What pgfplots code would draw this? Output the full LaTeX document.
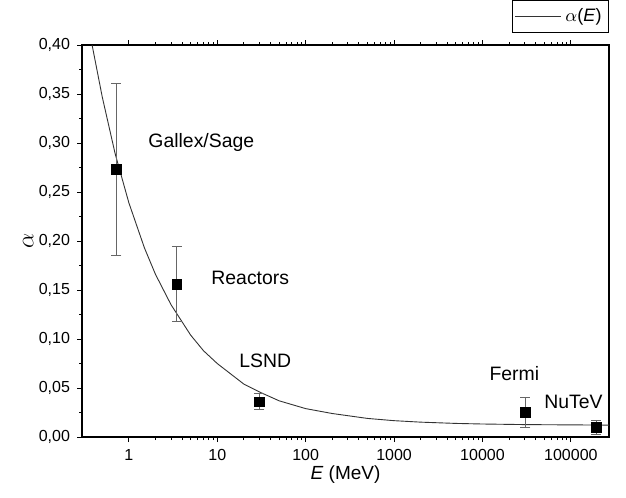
\documentclass[border=0pt]{standalone}
\usepackage{pgfplots}
\pgfplotsset{compat=1.18}
\usepackage{fontspec}
\setmainfont{Liberation Sans}

\begin{document}
\begin{tikzpicture}
\begin{axis}[
  name=main,
  scale only axis, width=263.5pt, height=196pt,
  xmode=log, xmin=0.295, xmax=2.7e5,
  ymin=0, ymax=0.40,
  xtick={1,10,100,1000,10000,100000},
  xticklabels={1,10,100,1000,10000,100000},
  ytick={0,0.05,0.1,0.15,0.2,0.25,0.3,0.35,0.4},
  minor y tick num=1,
  /pgf/number format/assume math mode=true,
  yticklabel style={/pgf/number format/.cd, fixed, fixed zerofill, precision=2, use comma},
  tick label style={font=\fontsize{8}{9}\selectfont},
  tick align=outside, xtick pos=both, ytick pos=left,
  major tick length=2.5pt, minor tick length=1.5pt,
  every tick/.style={black, line width=0.5pt},
  axis line style={line width=0.8pt},
  xlabel={\textit{E} (MeV)},
  xlabel style={font=\fontsize{9.5}{11}\selectfont, yshift=4pt},
  ylabel={$\alpha$},
  ylabel style={font=\fontsize{12}{13}\selectfont, at={(axis description cs:-0.102,0.5)}, anchor=center},
  legend style={at={(1,1)}, anchor=south east, yshift=6pt, xshift=0pt,
    draw=black, line width=0.5pt, font=\fontsize{9}{10}\selectfont,
    inner xsep=1.5pt, inner ysep=2pt, row sep=0pt},
  legend image code/.code={\draw[#1] (0cm,0cm) -- (0.8cm,0cm);},
  clip=true,
]
\addplot[black!80, line width=0.45pt] coordinates {
  (0.38,0.402)(0.5,0.347)(0.7,0.289)(1,0.239)(1.5,0.193)(2,0.166)
  (3,0.135)(5,0.104)(7,0.088)(10,0.075)(20,0.054)(30,0.046)(50,0.037)
  (100,0.029)(200,0.024)(500,0.019)(1000,0.0167)(2000,0.0152)
  (5000,0.0139)(10000,0.0133)(30000,0.0127)(100000,0.0124)(270000,0.0122)};

\addplot[only marks, mark=square*, mark size=2.4pt, black,
  error bars/.cd, y dir=both, y explicit,
  error bar style={black!60, line width=0.5pt},
  error mark options={rotate=90, mark size=2.5pt, black!60, line width=0.5pt}]
  coordinates {
  (0.72,0.273) +- (0,0.088)
  (3.5,0.156) +- (0,0.038)
  (30,0.036) +- (0,0.008)
  (30500,0.025) +- (0,0.015)
  (194000,0.010) +- (0,0.007)};
\legend{$\alpha$(\textit{E})}

\begin{scope}[every node/.style={font=\fontsize{9.7}{11}\selectfont, anchor=west, inner sep=0pt}]
\node at (axis cs:1.65,0.301) {Gallex/Sage};
\node at (axis cs:8.5,0.162) {Reactors};
\node at (axis cs:17.6,0.0776) {LSND};
\node at (axis cs:11900,0.0643) {Fermi};
\node at (axis cs:49700,0.0357) {NuTeV};
\end{scope}
\end{axis}
\path ([shift={(-41pt,-30pt)}]main.south west) rectangle ([shift={(8.5pt,21pt)}]main.north east);
\end{tikzpicture}
\end{document}
